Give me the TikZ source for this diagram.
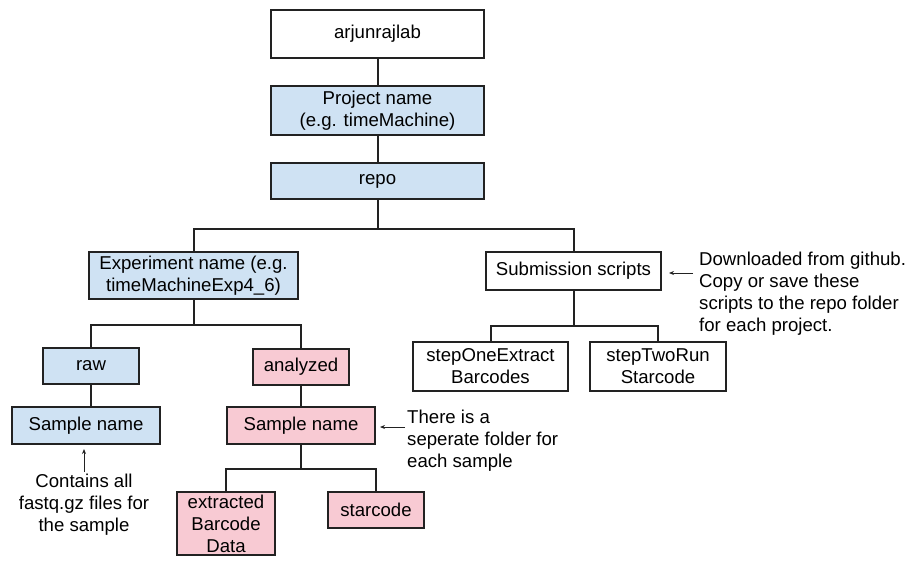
\documentclass[tikz,border=0pt]{standalone}
\usepackage{fontspec}
\setmainfont{Liberation Sans}
\usetikzlibrary{arrows.meta}
\definecolor{bluef}{HTML}{CFE2F3}
\definecolor{pinkf}{HTML}{F8CAD3}
\definecolor{linec}{HTML}{222222}
\begin{document}
\begin{tikzpicture}[x=1pt,y=-1pt,
  font=\fontsize{18.6pt}{22pt}\selectfont,
  box/.style={draw=linec,line width=1.2pt,inner sep=0pt,align=center},
  wbox/.style={box,fill=white},
  bbox/.style={box,fill=bluef},
  pbox/.style={box,fill=pinkf},
  conn/.style={draw=linec,line width=2pt},
  note/.style={align=left,inner sep=0pt,anchor=north west},
  cnote/.style={align=center,inner sep=0pt,anchor=north},
  arr/.style={draw=linec,line width=1pt,-{Stealth[length=5pt,width=4pt]}}
]
\useasboundingbox (0,0) rectangle (910,578);
% nodes
\node[wbox,minimum width=213pt,minimum height=48pt] (arj) at (377.5,34) {arjunrajlab};
\node[bbox,minimum width=213pt,minimum height=49pt] (proj) at (377.5,110.5) {Project name\\(e.g. timeMachine)};
\node[bbox,minimum width=213pt,minimum height=36pt] (repo) at (377.5,181) {repo};
\node[bbox,minimum width=209pt,minimum height=47pt] (exp) at (193.5,275.5) {Experiment name (e.g.\\timeMachineExp4\_6)};
\node[wbox,minimum width=175pt,minimum height=38pt] (sub) at (573.5,271) {Submission scripts};
\node[bbox,minimum width=96pt,minimum height=36pt] (raw) at (91,366) {raw};
\node[pbox,minimum width=96pt,minimum height=36pt] (ana) at (301,367) {analyzed};
\node[bbox,minimum width=148pt,minimum height=37pt] (sraw) at (86,425.5) {Sample name};
\node[pbox,minimum width=148pt,minimum height=37pt] (sana) at (301,425.5) {Sample name};
\node[pbox,minimum width=98pt,minimum height=63pt] (ebd) at (226,523.5) {extracted\\Barcode\\Data};
\node[pbox,minimum width=96pt,minimum height=36pt] (star) at (376,510) {starcode};
\node[wbox,minimum width=155pt,minimum height=49pt] (s1) at (490.5,366.5) {stepOneExtract\\Barcodes};
\node[wbox,minimum width=136pt,minimum height=49pt] (s2) at (658,366.5) {stepTwoRun\\Starcode};
% notes
\node[cnote] (n1) at (84,474) {Contains all\\fastq.gz files for\\the sample};
\node[note] (n2) at (407,410) {There is a\\seperate folder for\\each sample};
\node[note] (n3) at (699,252) {Downloaded from github.\\Copy or save these\\scripts to the repo folder\\for each project.};
% connectors
\draw[conn] (arj.south) -- (proj.north);
\draw[conn] (proj.south) -- (repo.north);
\draw[conn] (repo.south) -- ++(0,29) coordinate (rj) -| (exp.north);
\draw[conn] (rj) -| (sub.north);
\draw[conn] (exp.south) -- ++(0,25.5) coordinate (ej) -| (raw.north);
\draw[conn] (ej) -| (ana.north);
\draw[conn] (raw.south) -- (raw.south |- sraw.north);
\draw[conn] (ana.south) -- (sana.north);
\draw[conn] (sana.south) -- ++(0,24.5) coordinate (sj) -| (ebd.north);
\draw[conn] (sj) -| (star.north);
\draw[conn] (sub.south) -- ++(0,35) coordinate (bj) -| (s1.north);
\draw[conn] (bj) -| (s2.north);
% arrows
\coordinate (a1s) at (84,472);
\coordinate (a1e) at (84,449);
\draw[arr] (a1s) -- (a1e);
\coordinate (a2s) at (405,427);
\coordinate (a2e) at (380,427);
\draw[arr] (a2s) -- (a2e);
\coordinate (a3s) at (693,273);
\coordinate (a3e) at (669,273);
\draw[arr] (a3s) -- (a3e);
\end{tikzpicture}
\end{document}
